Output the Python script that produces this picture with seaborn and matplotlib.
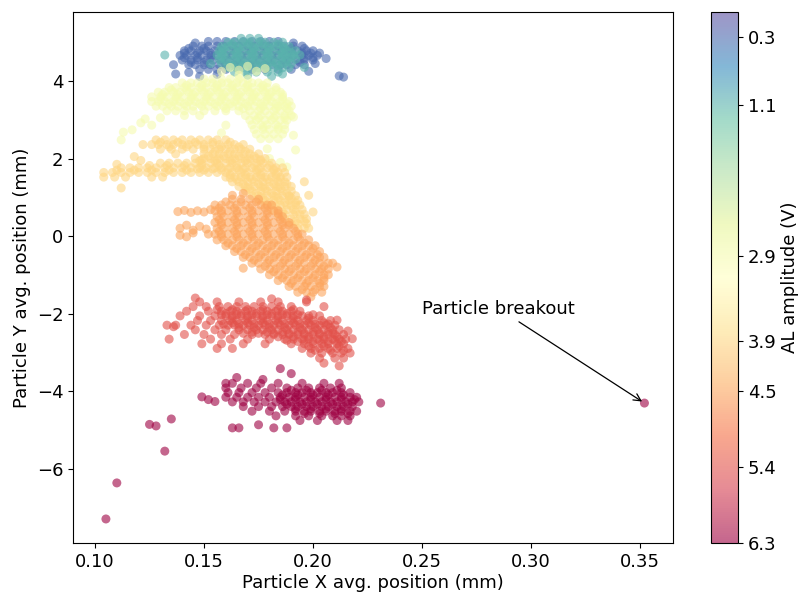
import numpy as np
import pandas as pd
import matplotlib
matplotlib.use("Agg")
import matplotlib.pyplot as plt
import seaborn as sns
from matplotlib.colors import Normalize
from matplotlib.cm import ScalarMappable

# ---------------- data ----------------
amplitudes = [0.3, 1.1, 2.9, 3.9, 4.5, 5.4, 6.3]
cbar_ticks = [0.3, 1.1, 2.9, 3.9, 4.5, 5.4, 6.3]

# rows: y value -> list of x values ; core/dense: extra points in dense cores ;
# extra: scattered (x, y) points
rows_03 = {
    5.02: [0.152, 0.156, 0.160, 0.164, 0.168, 0.172, 0.176, 0.180, 0.184],
    4.90: [0.145, 0.149, 0.152, 0.156, 0.159, 0.163, 0.166, 0.170, 0.173, 0.177, 0.180, 0.184, 0.187, 0.191, 0.195],
    4.78: [0.141, 0.144, 0.148, 0.151, 0.155, 0.158, 0.162, 0.165, 0.169, 0.172, 0.176, 0.179, 0.183, 0.186, 0.190, 0.193, 0.197, 0.200],
    4.66: [0.139, 0.142, 0.146, 0.149, 0.153, 0.156, 0.160, 0.163, 0.167, 0.170, 0.174, 0.177, 0.181, 0.184, 0.188, 0.191, 0.195, 0.198, 0.202],
    4.54: [0.140, 0.144, 0.147, 0.151, 0.154, 0.158, 0.161, 0.165, 0.168, 0.172, 0.175, 0.179, 0.182, 0.186, 0.189, 0.193, 0.196, 0.200],
    4.42: [0.143, 0.146, 0.150, 0.153, 0.157, 0.160, 0.164, 0.167, 0.171, 0.174, 0.178, 0.181, 0.185, 0.188, 0.192, 0.196],
    4.30: [0.148, 0.152, 0.156, 0.160, 0.166, 0.172, 0.178, 0.184, 0.190],
}
core_03 = {
    4.84: [0.143, 0.150, 0.190, 0.196],
    4.72: [0.141, 0.147, 0.153, 0.195, 0.199],
    4.60: [0.141, 0.147, 0.153, 0.196, 0.200],
    4.48: [0.144, 0.150, 0.194],
}
extra_03 = [(0.136, 4.42), (0.137, 4.18), (0.143, 4.22), (0.148, 4.12), (0.156, 4.17),
            (0.203, 4.72), (0.201, 4.45), (0.198, 4.25), (0.212, 4.13), (0.214, 4.10),
            (0.206, 4.58), (0.146, 4.98), (0.191, 4.98)]

rows_11 = {
    5.10: [0.167, 0.171, 0.175],
    5.00: [0.161, 0.164, 0.168, 0.171, 0.175, 0.178, 0.182, 0.186],
    4.89: [0.158, 0.161, 0.165, 0.168, 0.172, 0.175, 0.179, 0.182, 0.186, 0.189],
    4.78: [0.157, 0.160, 0.164, 0.167, 0.171, 0.174, 0.178, 0.181, 0.185, 0.188, 0.192],
    4.67: [0.156, 0.159, 0.163, 0.166, 0.170, 0.173, 0.177, 0.180, 0.184, 0.187, 0.191, 0.194],
    4.56: [0.157, 0.160, 0.164, 0.167, 0.171, 0.174, 0.178, 0.181, 0.185, 0.188, 0.192],
    4.45: [0.158, 0.162, 0.165, 0.169, 0.172, 0.176, 0.179, 0.183, 0.186, 0.190],
    4.34: [0.161, 0.165, 0.168, 0.172, 0.175, 0.179, 0.182, 0.186, 0.189],
    4.23: [0.164, 0.169, 0.174, 0.179, 0.184],
}
core_11 = {
    4.95: [0.163, 0.170, 0.177, 0.184],
    4.84: [0.159, 0.166, 0.173, 0.180, 0.187],
    4.73: [0.158, 0.165, 0.172, 0.179, 0.186, 0.190],
    4.62: [0.158, 0.165, 0.172, 0.179, 0.186, 0.190],
    4.50: [0.160, 0.167, 0.174, 0.181, 0.188],
    4.40: [0.163, 0.170, 0.177, 0.184],
}
extra_11 = [(0.132, 4.67), (0.153, 4.45), (0.181, 4.12), (0.186, 4.18), (0.196, 4.35),
            (0.170, 4.15)]

rows_29 = {
    4.05: [0.150, 0.154, 0.158, 0.162, 0.166, 0.170],
    3.95: [0.140, 0.144, 0.147, 0.151, 0.154, 0.158, 0.161, 0.165, 0.168, 0.172, 0.175, 0.179],
    3.83: [0.134, 0.137, 0.141, 0.144, 0.148, 0.151, 0.155, 0.158, 0.162, 0.165, 0.169, 0.172, 0.176, 0.179, 0.183],
    3.71: [0.129, 0.132, 0.136, 0.139, 0.143, 0.146, 0.150, 0.153, 0.157, 0.160, 0.164, 0.167, 0.171, 0.174, 0.178, 0.181, 0.185],
    3.59: [0.126, 0.130, 0.133, 0.137, 0.140, 0.144, 0.147, 0.151, 0.154, 0.158, 0.161, 0.165, 0.168, 0.172, 0.175, 0.179, 0.182, 0.186],
    3.47: [0.126, 0.129, 0.132, 0.136, 0.139, 0.143, 0.146, 0.150, 0.153, 0.157, 0.160, 0.164, 0.167, 0.171, 0.174, 0.178, 0.181, 0.185, 0.189],
    3.35: [0.128, 0.131, 0.135, 0.138, 0.142, 0.145, 0.149, 0.152, 0.156, 0.159, 0.163, 0.166, 0.170, 0.173, 0.177, 0.180, 0.184, 0.187, 0.190],
    3.23: [0.133, 0.137, 0.141, 0.145, 0.150, 0.155, 0.160, 0.166, 0.171, 0.175, 0.178, 0.182, 0.185, 0.189],
    3.11: [0.141, 0.148, 0.169, 0.173, 0.176, 0.180, 0.183, 0.187, 0.190],
    2.99: [0.171, 0.174, 0.178, 0.181, 0.185, 0.188],
    2.87: [0.172, 0.176, 0.179, 0.183, 0.187],
    2.75: [0.173, 0.177, 0.180, 0.184, 0.187],
    2.63: [0.174, 0.178, 0.182, 0.186],
    2.51: [0.176, 0.180, 0.184],
}
core_29 = {
    3.89: [0.142, 0.149, 0.156, 0.163, 0.170, 0.177],
    3.77: [0.135, 0.142, 0.149, 0.156, 0.163, 0.170, 0.177, 0.183],
    3.65: [0.131, 0.138, 0.145, 0.152, 0.159, 0.166, 0.173, 0.180, 0.186],
    3.53: [0.130, 0.137, 0.144, 0.151, 0.158, 0.165, 0.172, 0.179, 0.186],
    3.41: [0.134, 0.141, 0.148, 0.155, 0.162, 0.169, 0.176, 0.183, 0.188],
    3.29: [0.160, 0.168, 0.176, 0.183, 0.188],
    3.05: [0.175, 0.182, 0.187],
    2.81: [0.177, 0.184],
}
extra_29 = [(0.113, 2.68), (0.121, 2.92), (0.112, 2.48), (0.117, 2.74), (0.126, 2.86),
            (0.192, 2.22), (0.180, 2.00), (0.188, 1.78), (0.185, 1.90), (0.179, 2.25),
            (0.160, 2.86), (0.158, 2.66), (0.191, 2.60), (0.191, 3.07), (0.158, 4.25),
            (0.162, 4.35), (0.166, 4.28), (0.170, 4.38), (0.174, 4.25), (0.178, 4.32),
            (0.166, 4.15), (0.123, 3.02), (0.130, 3.05)]

rows_39 = {
    2.48: [0.128, 0.132, 0.136, 0.140, 0.144, 0.148, 0.152, 0.156, 0.160],
    2.36: [0.122, 0.126, 0.129, 0.133, 0.136, 0.140, 0.143, 0.147, 0.150, 0.154, 0.157, 0.161, 0.164, 0.168],
    2.24: [0.130, 0.135, 0.140, 0.145, 0.150, 0.153, 0.157, 0.160, 0.164, 0.167, 0.171],
    2.12: [0.150, 0.154, 0.157, 0.161, 0.164, 0.168, 0.171, 0.175],
    2.00: [0.146, 0.150, 0.153, 0.157, 0.160, 0.164, 0.167, 0.171, 0.174, 0.178],
    1.88: [0.130, 0.134, 0.138, 0.142, 0.146, 0.149, 0.153, 0.156, 0.160, 0.163, 0.167, 0.170, 0.174, 0.177, 0.181],
    1.76: [0.112, 0.116, 0.120, 0.124, 0.128, 0.132, 0.136, 0.140, 0.144, 0.148, 0.151, 0.155, 0.158, 0.162, 0.165, 0.169, 0.172, 0.176, 0.179, 0.183, 0.186],
    1.64: [0.104, 0.108, 0.112, 0.116, 0.120, 0.124, 0.128, 0.132, 0.136, 0.140, 0.144, 0.148, 0.152, 0.156, 0.160, 0.163, 0.167, 0.170, 0.174, 0.177, 0.181, 0.184, 0.187],
    1.52: [0.104, 0.109, 0.114, 0.126, 0.131, 0.160, 0.164, 0.167, 0.171, 0.174, 0.178, 0.181, 0.185, 0.188],
    1.40: [0.163, 0.166, 0.170, 0.173, 0.177, 0.180, 0.184, 0.187],
    1.28: [0.166, 0.169, 0.173, 0.176, 0.180, 0.183, 0.187, 0.190],
    1.16: [0.169, 0.172, 0.176, 0.179, 0.183, 0.186, 0.190],
    1.04: [0.172, 0.175, 0.179, 0.182, 0.186, 0.189, 0.192],
    0.92: [0.175, 0.178, 0.182, 0.185, 0.189, 0.193],
    0.80: [0.178, 0.181, 0.185, 0.188, 0.192, 0.194],
    0.68: [0.181, 0.184, 0.188, 0.191, 0.195],
    0.56: [0.184, 0.187, 0.191, 0.194, 0.196],
    0.44: [0.187, 0.190, 0.194, 0.197],
    0.32: [0.190, 0.193, 0.197],
    0.20: [0.193, 0.196, 0.198],
}
core_39 = {
    2.42: [0.130, 0.138, 0.146, 0.154, 0.162],
    2.30: [0.134, 0.142, 0.150, 0.158, 0.166],
    2.06: [0.152, 0.159, 0.166, 0.173],
    1.94: [0.148, 0.155, 0.162, 0.169, 0.176],
    1.82: [0.125, 0.133, 0.141, 0.149, 0.157, 0.165, 0.173, 0.180],
    1.70: [0.110, 0.118, 0.126, 0.134, 0.142, 0.150, 0.158, 0.166, 0.174, 0.182],
    1.58: [0.162, 0.169, 0.176, 0.183],
    1.46: [0.165, 0.172, 0.179, 0.185],
    1.34: [0.168, 0.175, 0.182, 0.188],
    1.22: [0.171, 0.178, 0.185],
    1.10: [0.174, 0.181, 0.188],
    0.98: [0.177, 0.184, 0.190],
    0.86: [0.180, 0.187, 0.192],
    0.62: [0.186, 0.192],
    0.38: [0.192, 0.196],
}
dense_39 = {
    2.18: [0.155, 0.162, 0.169],
    1.97: [0.149, 0.156, 0.163, 0.170, 0.176],
    1.73: [0.147, 0.154, 0.161, 0.168, 0.175, 0.182],
    1.50: [0.162, 0.169, 0.176, 0.183],
    1.26: [0.170, 0.177, 0.184],
    1.02: [0.176, 0.183, 0.189],
    0.78: [0.183, 0.190],
}
extra_39 = [(0.112, 1.24), (0.121, 1.95), (0.118, 2.05), (0.110, 1.85), (0.137, 2.12),
            (0.196, 1.40), (0.198, 1.05), (0.200, 0.62)]

rows_45 = {
    0.95: [0.163, 0.167, 0.171, 0.175],
    0.80: [0.155, 0.158, 0.162, 0.165, 0.169, 0.172, 0.176, 0.179, 0.181],
    0.65: [0.155, 0.158, 0.161, 0.165, 0.168, 0.172, 0.175, 0.179, 0.182, 0.184],
    0.50: [0.156, 0.159, 0.163, 0.166, 0.170, 0.173, 0.177, 0.180, 0.184, 0.186],
    0.35: [0.155, 0.158, 0.161, 0.165, 0.168, 0.172, 0.175, 0.179, 0.182, 0.186, 0.189],
    0.20: [0.156, 0.159, 0.163, 0.166, 0.170, 0.173, 0.177, 0.180, 0.184, 0.187, 0.191],
    0.05: [0.155, 0.158, 0.161, 0.165, 0.168, 0.172, 0.175, 0.179, 0.182, 0.186, 0.189, 0.193, 0.195],
    -0.10: [0.156, 0.159, 0.163, 0.166, 0.170, 0.173, 0.177, 0.180, 0.184, 0.187, 0.191, 0.194, 0.198],
    -0.25: [0.160, 0.163, 0.167, 0.170, 0.174, 0.177, 0.181, 0.184, 0.188, 0.191, 0.195, 0.198, 0.201],
    -0.40: [0.164, 0.167, 0.171, 0.174, 0.178, 0.181, 0.185, 0.188, 0.192, 0.195, 0.199, 0.203],
    -0.55: [0.168, 0.171, 0.175, 0.178, 0.182, 0.185, 0.189, 0.192, 0.196, 0.199, 0.203, 0.205],
    -0.70: [0.172, 0.175, 0.179, 0.182, 0.186, 0.189, 0.193, 0.196, 0.200, 0.203, 0.207],
    -0.85: [0.176, 0.180, 0.183, 0.187, 0.190, 0.194, 0.197, 0.201, 0.204, 0.207],
    -1.00: [0.180, 0.184, 0.187, 0.191, 0.194, 0.198, 0.201, 0.205, 0.207],
    -1.15: [0.184, 0.188, 0.191, 0.195, 0.198, 0.202, 0.205],
    -1.30: [0.189, 0.192, 0.196, 0.199, 0.203, 0.205],
    -1.45: [0.193, 0.197, 0.200, 0.204],
}
core_45 = {
    0.88: [0.160, 0.167, 0.174],
    0.72: [0.157, 0.164, 0.171, 0.178],
    0.58: [0.158, 0.165, 0.172, 0.179, 0.184],
    0.42: [0.157, 0.164, 0.171, 0.178, 0.185],
    0.28: [0.158, 0.165, 0.172, 0.179, 0.186, 0.189],
    0.12: [0.157, 0.164, 0.171, 0.178, 0.185, 0.192],
    -0.02: [0.158, 0.165, 0.172, 0.179, 0.186, 0.193],
    -0.18: [0.161, 0.168, 0.175, 0.182, 0.189, 0.196],
    -0.32: [0.165, 0.172, 0.179, 0.186, 0.193, 0.200],
    -0.48: [0.169, 0.176, 0.183, 0.190, 0.197, 0.202],
    -0.62: [0.173, 0.180, 0.187, 0.194, 0.201],
    -0.78: [0.178, 0.185, 0.192, 0.199, 0.205],
    -0.92: [0.182, 0.189, 0.196, 0.203],
    -1.08: [0.186, 0.193, 0.200, 0.205],
    -1.22: [0.190, 0.197, 0.203],
    -1.38: [0.195, 0.201],
}
extra_45 = [(0.138, 0.63), (0.141, 0.66), (0.144, 0.61), (0.147, 0.65), (0.150, 0.62),
            (0.153, 0.68), (0.139, 0.20), (0.142, 0.28), (0.145, 0.15), (0.148, 0.25),
            (0.151, 0.18), (0.139, 0.02), (0.142, -0.02), (0.145, 0.08), (0.152, 0.05),
            (0.168, -0.83), (0.209, -0.70), (0.211, -0.80), (0.199, -1.57), (0.163, 1.05),
            (0.168, 1.10)]

rows_54 = {
    -1.70: [0.148, 0.156, 0.166, 0.176, 0.184, 0.197],
    -1.82: [0.145, 0.151, 0.157, 0.161, 0.165, 0.169, 0.173, 0.177, 0.181, 0.185, 0.190],
    -1.94: [0.142, 0.152, 0.158, 0.162, 0.165, 0.169, 0.172, 0.176, 0.179, 0.183, 0.186, 0.190, 0.194],
    -2.06: [0.139, 0.148, 0.155, 0.160, 0.163, 0.167, 0.170, 0.174, 0.177, 0.181, 0.184, 0.188, 0.191, 0.195, 0.198, 0.203],
    -2.18: [0.147, 0.153, 0.158, 0.162, 0.165, 0.169, 0.172, 0.176, 0.179, 0.183, 0.186, 0.190, 0.193, 0.197, 0.200, 0.204, 0.208],
    -2.30: [0.133, 0.137, 0.144, 0.151, 0.157, 0.161, 0.164, 0.168, 0.171, 0.175, 0.178, 0.182, 0.185, 0.189, 0.192, 0.196, 0.199, 0.203, 0.206, 0.210],
    -2.42: [0.146, 0.155, 0.160, 0.166, 0.170, 0.174, 0.177, 0.181, 0.184, 0.188, 0.191, 0.195, 0.198, 0.202, 0.205, 0.209, 0.212],
    -2.54: [0.141, 0.150, 0.158, 0.164, 0.172, 0.178, 0.182, 0.186, 0.189, 0.193, 0.196, 0.200, 0.203, 0.207, 0.210, 0.214],
    -2.66: [0.134, 0.153, 0.162, 0.170, 0.180, 0.187, 0.191, 0.195, 0.198, 0.202, 0.205, 0.209, 0.212, 0.215],
    -2.78: [0.149, 0.158, 0.168, 0.178, 0.190, 0.196, 0.200, 0.204, 0.207, 0.211, 0.214],
    -2.90: [0.156, 0.163, 0.195, 0.199, 0.203, 0.207, 0.211, 0.216],
    -3.02: [0.199, 0.204, 0.209, 0.213, 0.217],
    -3.15: [0.203, 0.210, 0.214],
}
core_54 = {
    -2.00: [0.160, 0.167, 0.174, 0.181, 0.188],
    -2.12: [0.163, 0.170, 0.177, 0.184, 0.191, 0.198],
    -2.24: [0.163, 0.170, 0.177, 0.184, 0.191, 0.198, 0.205],
    -2.36: [0.166, 0.173, 0.180, 0.187, 0.194, 0.201, 0.208],
    -2.48: [0.172, 0.179, 0.186, 0.193, 0.200, 0.207],
    -2.60: [0.184, 0.191, 0.198, 0.205, 0.211],
    -2.72: [0.193, 0.200, 0.207, 0.213],
    -2.84: [0.198, 0.205, 0.212],
}
dense_54 = {
    -1.90: [0.156, 0.163, 0.170, 0.177, 0.184, 0.191],
    -2.03: [0.158, 0.165, 0.172, 0.179, 0.186, 0.193, 0.200],
    -2.27: [0.159, 0.166, 0.173, 0.180, 0.187, 0.194, 0.201, 0.207],
    -2.51: [0.168, 0.175, 0.182, 0.189, 0.196, 0.203, 0.209],
    -2.69: [0.188, 0.196, 0.203, 0.210],
    -2.95: [0.201, 0.208, 0.214],
}
extra_54 = [(0.146, -1.60), (0.181, -1.62), (0.197, -1.65), (0.205, -1.82), (0.211, -2.17),
            (0.216, -2.45), (0.218, -2.65), (0.205, -3.28), (0.212, -3.35), (0.136, -2.34)]

rows_63 = {
    -3.80: [0.163, 0.170, 0.176, 0.184, 0.195, 0.205, 0.212],
    -3.92: [0.160, 0.167, 0.174, 0.181, 0.188, 0.193, 0.198, 0.203, 0.208, 0.213],
    -4.04: [0.161, 0.166, 0.172, 0.178, 0.184, 0.188, 0.192, 0.195, 0.199, 0.202, 0.206, 0.209, 0.213, 0.217],
    -4.16: [0.160, 0.165, 0.170, 0.175, 0.180, 0.185, 0.189, 0.192, 0.196, 0.199, 0.203, 0.206, 0.210, 0.213, 0.217, 0.220],
    -4.28: [0.163, 0.168, 0.173, 0.178, 0.183, 0.187, 0.190, 0.194, 0.197, 0.201, 0.204, 0.208, 0.211, 0.215, 0.218, 0.221],
    -4.40: [0.168, 0.175, 0.181, 0.186, 0.190, 0.193, 0.197, 0.200, 0.204, 0.207, 0.211, 0.214, 0.218],
    -4.52: [0.172, 0.180, 0.187, 0.192, 0.196, 0.199, 0.203, 0.206, 0.210, 0.213, 0.217, 0.220],
    -4.64: [0.183, 0.192, 0.198, 0.204, 0.209, 0.213, 0.217],
    -4.76: [0.194, 0.202, 0.211, 0.216],
}
core_63 = {
    -3.98: [0.190, 0.197, 0.204, 0.211],
    -4.10: [0.186, 0.193, 0.200, 0.207, 0.214],
    -4.22: [0.185, 0.192, 0.199, 0.206, 0.213, 0.219],
    -4.34: [0.188, 0.195, 0.202, 0.209, 0.216],
    -4.46: [0.192, 0.199, 0.206, 0.213],
    -4.58: [0.196, 0.203, 0.210, 0.216],
}
extra_63 = [(0.149, -4.15), (0.152, -4.22), (0.155, -4.27), (0.163, -4.95), (0.166, -4.95),
            (0.175, -4.87), (0.182, -4.95), (0.188, -4.95), (0.231, -4.31), (0.177, -3.70),
            (0.185, -3.42), (0.190, -3.55), (0.160, -3.80), (0.165, -3.65), (0.125, -4.86),
            (0.128, -4.90), (0.135, -4.72), (0.132, -5.55), (0.110, -6.37), (0.105, -7.30),
            (0.352, -4.31)]

all_rows = [(rows_03, core_03), (rows_11, core_11), (rows_29, core_29),
            (rows_39, core_39, dense_39), (rows_45, core_45),
            (rows_54, core_54, dense_54), (rows_63, core_63)]
all_extra = [extra_03, extra_11, extra_29, extra_39, extra_45, extra_54, extra_63]

# ---------------- build table ----------------
recs = []
for amp, row_sets, extra in zip(amplitudes, all_rows, all_extra):
    for rows in row_sets:
        for yv, xs in rows.items():
            for xv in xs:
                recs.append((xv, yv, amp))
    for xv, yv in extra:
        recs.append((xv, yv, amp))
df = pd.DataFrame(recs, columns=["x", "y", "amp"])

# ---------------- figure ----------------
plt.rcParams["font.size"] = 13
W, H = 798, 594
fig = plt.figure(figsize=(W / 100, H / 100), dpi=100)
ax = fig.add_axes([73 / W, 51 / H, 600 / W, 531 / H])
cax = fig.add_axes([711 / W, 51 / H, 27 / W, 531 / H])

norm = Normalize(vmin=0.0, vmax=6.3)
cmap = plt.get_cmap("Spectral_r")

sns.scatterplot(data=df, x="x", y="y", hue="amp", palette=cmap, hue_norm=norm,
                s=42, alpha=0.6, linewidth=0, legend=False, ax=ax)

ax.set_xlim(0.0899, 0.3651)
ax.set_ylim(-7.92, 5.78)
ax.set_xticks([0.10, 0.15, 0.20, 0.25, 0.30, 0.35])
ax.set_xlabel("Particle X avg. position (mm)", labelpad=2)
ax.set_ylabel("Particle Y avg. position (mm)")

ax.annotate("Particle breakout", xy=(0.352, -4.31), xytext=(0.25, -2.0),
            arrowprops=dict(arrowstyle="->", color="black", lw=0.9))

sm = ScalarMappable(norm=norm, cmap=cmap)
sm.set_array([])
cb = fig.colorbar(sm, cax=cax, alpha=0.6)
cb.set_ticks(cbar_ticks)
cb.set_ticklabels([f"{t:.1f}" for t in cbar_ticks])
cb.ax.invert_yaxis()
cb.set_label("AL amplitude (V)", labelpad=3)

fig.savefig("out.png", dpi=100)
